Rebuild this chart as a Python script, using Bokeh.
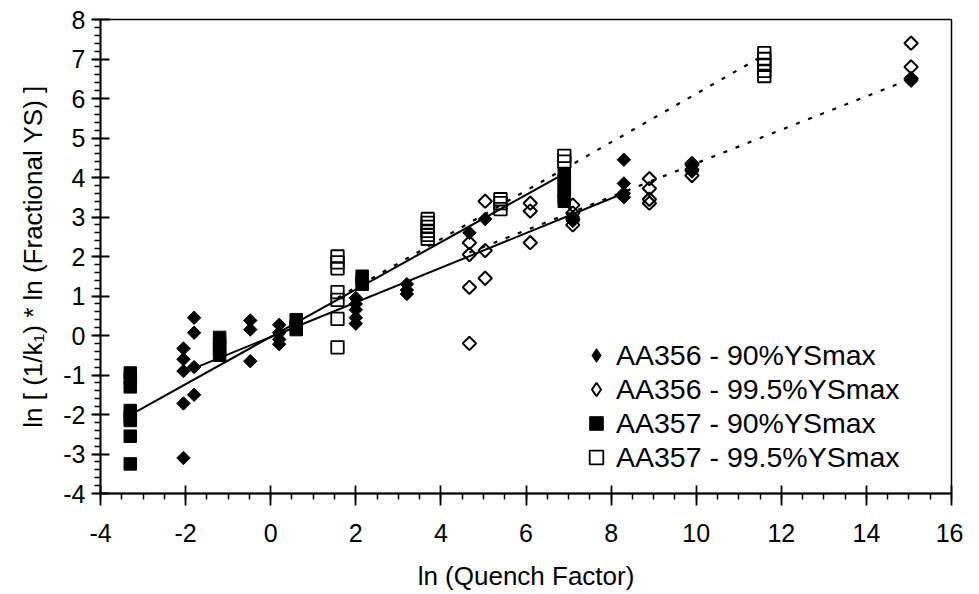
import math
from bokeh.plotting import figure
from bokeh.models import (SingleIntervalTicker, Legend, LegendItem, Range1d,
                          CustomJSTickFormatter)
from bokeh.embed import file_html
from bokeh.resources import INLINE

# ---------------- data ----------------
# AA356 - 90%YSmax (filled diamonds)
aa356_90_x = [-2.05, -2.05, -2.05, -2.05, -2.05,
              -1.8, -1.8, -1.8, -1.8,
              -0.48, -0.48, -0.48,
              0.2, 0.2, 0.2, 0.2,
              2.0, 2.0, 2.0, 2.0, 2.0,
              3.2, 3.2, 3.2,
              4.67, 5.04,
              7.1, 7.1,
              8.3, 8.3, 8.3, 8.3,
              9.9, 9.9,
              15.05, 15.05]
aa356_90_y = [-0.33, -0.6, -0.9, -1.72, -3.1,
              0.45, 0.07, -0.8, -1.5,
              0.38, 0.15, -0.65,
              0.27, 0.07, -0.1, -0.22,
              0.95, 0.8, 0.65, 0.45, 0.3,
              1.3, 1.15, 1.05,
              2.6, 2.95,
              3.0, 2.9,
              4.45, 3.85, 3.6, 3.5,
              4.3, 4.15,
              6.5, 6.45]

# AA356 - 99.5%YSmax (open diamonds)
aa356_995_x = [4.67, 4.67, 4.67, 4.67,
               5.04, 5.04, 5.04,
               6.1, 6.1, 6.1,
               7.1, 7.1, 7.1, 7.1,
               8.9, 8.9, 8.9, 8.9,
               9.9, 9.9, 9.9,
               15.05, 15.05, 15.05]
aa356_995_y = [2.35, 2.05, 1.22, -0.2,
               3.4, 2.15, 1.45,
               3.35, 3.15, 2.35,
               3.3, 3.1, 2.95, 2.8,
               3.97, 3.72, 3.45, 3.35,
               4.35, 4.2, 4.05,
               7.4, 6.8, 6.5]

# AA357 - 90%YSmax (filled squares)
aa357_90_x = [-3.3] * 8 + [-1.2] * 4 + [0.6] * 3 + [2.15] * 3 + [6.9] * 6
aa357_90_y = [-0.95, -1.1, -1.3, -1.9, -2.05, -2.15, -2.55, -3.25,
              -0.05, -0.2, -0.35, -0.5,
              0.4, 0.25, 0.15,
              1.5, 1.4, 1.3,
              4.1, 3.95, 3.8, 3.65, 3.5, 3.4]

# AA357 - 99.5%YSmax (open squares)
aa357_995_x = [1.57] * 7 + [3.69] * 6 + [5.4] * 3 + [6.9] * 2 + [11.6] * 5
aa357_995_y = [2.0, 1.85, 1.7, 1.1, 0.9, 0.42, -0.3,
               2.95, 2.85, 2.75, 2.65, 2.55, 2.45,
               3.45, 3.35, 3.2,
               4.55, 4.4,
               7.15, 7.0, 6.85, 6.7, 6.57]

# fitted lines (end points)
fit_357_90_x = [-3.2, 6.9]
fit_357_90_y = [-1.95, 4.1]
fit_357_995_x = [1.57, 11.6]
fit_357_995_y = [0.95, 7.1]
fit_356_90_x = [-1.85, 8.3]
fit_356_90_y = [-0.85, 3.6]
fit_356_995_x = [4.67, 15.05]
fit_356_995_y = [2.1, 6.5]

legend_labels = ["AA356 - 90%YSmax", "AA356 - 99.5%YSmax",
                 "AA357 - 90%YSmax", "AA357 - 99.5%YSmax"]

x_label = "ln (Quench Factor)"
y_label = "ln [ (1/k\u2081) * ln (Fractional YS) ]"

# ---------------- figure ----------------
FONT = "Liberation Sans"

p = figure(frame_width=851, frame_height=474,
           x_range=Range1d(-4, 16), y_range=Range1d(-4, 8),
           output_backend="svg", toolbar_location=None,
           min_border_left=100, min_border_right=12,
           min_border_top=19, min_border_bottom=88,
           background_fill_color="white", border_fill_color="white")

p.xgrid.visible = False
p.ygrid.visible = False
p.outline_line_color = "black"
p.outline_line_width = 1.5

p.xaxis.ticker = SingleIntervalTicker(interval=2, num_minor_ticks=4)
p.yaxis.ticker = SingleIntervalTicker(interval=1, num_minor_ticks=5)

hyphen_fmt = CustomJSTickFormatter(code="return String(tick);")

for ax in (p.xaxis, p.yaxis):
    ax.formatter = hyphen_fmt
    ax.axis_line_color = "black"
    ax.axis_line_width = 1.8
    ax.major_tick_line_color = "black"
    ax.major_tick_line_width = 1.8
    ax.minor_tick_line_color = "black"
    ax.minor_tick_line_width = 1.5
    ax.major_label_text_font = FONT
    ax.major_label_text_font_size = "25px"
    ax.major_label_text_color = "black"
    ax.axis_label_text_font = FONT
    ax.axis_label_text_font_size = "26px"
    ax.axis_label_text_font_style = "normal"
    ax.axis_label_text_color = "black"
    ax.minor_tick_in = 0
    ax.minor_tick_out = 6

p.xaxis.major_tick_in = 8
p.xaxis.major_tick_out = 12
p.xaxis.major_label_standoff = 18
p.xaxis.axis_label = x_label
p.xaxis.axis_label_standoff = 16

p.yaxis.major_tick_in = 9
p.yaxis.major_tick_out = 9
p.yaxis.major_label_standoff = 6
p.yaxis.axis_label = y_label
p.yaxis.axis_label_standoff = 12

# fit lines
p.line(fit_357_90_x, fit_357_90_y, line_color="black", line_width=2)
p.line(fit_356_90_x, fit_356_90_y, line_color="black", line_width=2)
p.line(fit_357_995_x, fit_357_995_y, line_color="black", line_width=2.2,
       line_dash="4 9")
p.line(fit_356_995_x, fit_356_995_y, line_color="black", line_width=2.2,
       line_dash="4 9")

# scatter series
r1 = p.scatter(aa356_90_x, aa356_90_y, marker="square", angle=math.pi / 4,
               size=9.5, fill_color="black", line_color="black", line_width=1)
r3 = p.scatter(aa357_90_x, aa357_90_y, marker="square", size=12.5,
               fill_color="black", line_color="black", line_width=1)
r2 = p.scatter(aa356_995_x, aa356_995_y, marker="square", angle=math.pi / 4,
               size=9.5, fill_color=None, line_color="black", line_width=2)
r4 = p.scatter(aa357_995_x, aa357_995_y, marker="square", size=12.5,
               fill_color=None, line_color="black", line_width=1.8)

# legend swatches: the legend does not rotate markers, so the diamond series
# get a zero-size diamond twin whose shape is used for the legend only
k1 = p.scatter(aa356_90_x, aa356_90_y, marker="diamond", size=0,
               fill_color="black", line_color="black", line_width=1)
k2 = p.scatter(aa356_995_x, aa356_995_y, marker="diamond", size=0,
               fill_color=None, line_color="black", line_width=2)

legend = Legend(items=[LegendItem(label=legend_labels[0], renderers=[k1]),
                       LegendItem(label=legend_labels[1], renderers=[k2]),
                       LegendItem(label=legend_labels[2], renderers=[r3]),
                       LegendItem(label=legend_labels[3], renderers=[r4])],
                location=(479, 19),
                glyph_width=34, glyph_height=34, label_height=34,
                label_standoff=3, spacing=0, padding=0, margin=0,
                label_text_font=FONT, label_text_font_size="28.5px",
                label_text_color="black",
                border_line_color=None, background_fill_alpha=0)
p.add_layout(legend, "center")

open("out.html", "w").write(file_html(p, INLINE))
